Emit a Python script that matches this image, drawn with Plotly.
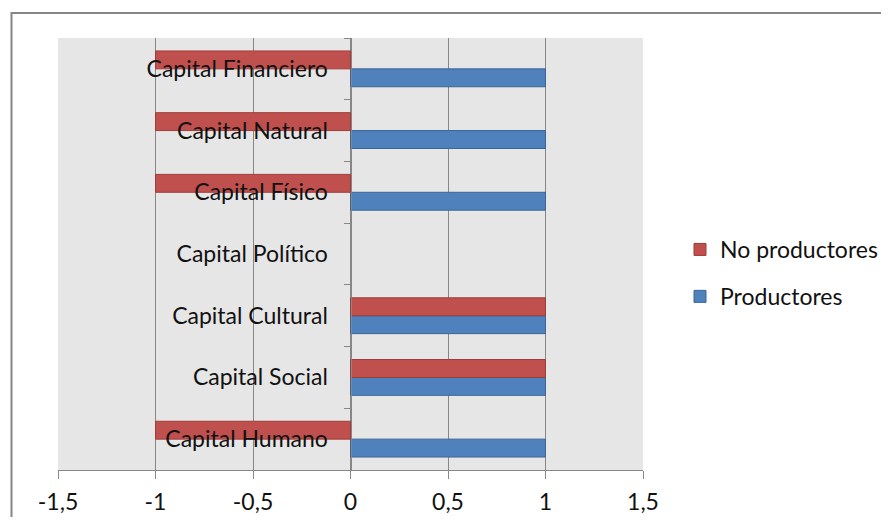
import plotly.graph_objects as go

# ---- data ----
categories = ["Capital Financiero", "Capital Natural", "Capital Físico", "Capital Político",
              "Capital Cultural", "Capital Social", "Capital Humano"]
no_productores = [-1, -1, -1, 0, 1, 1, -1]
productores = [1, 1, 1, 0, 1, 1, 1]
x_tick_vals = [-1.5, -1, -0.5, 0, 0.5, 1, 1.5]
x_tick_labels = ["-1,5", "-1", "-0,5", "0", "0,5", "1", "1,5"]

# page body adds an 8px margin all round; size the figure so the page fits the window
OFF = 8
W, H = 889 - 2 * OFF, 525 - 2 * OFF
PL, PT, PW, PH = 58, 38, 585, 432          # plot area in page pixels
ML, MT = PL - OFF, PT - OFF
MR, MB = W - ML - PW, H - MT - PH

FONT = "Lato, Calibri, 'Open Sans', sans-serif"
FS = 23
RED, RED_EDGE = "#C0504D", "#9E3C39"
BLUE, BLUE_EDGE = "#4F81BD", "#3A6596"
GRID = "#878787"


def edge_widths(vals):
    return [0 if v == 0 else 1 for v in vals]


fig = go.Figure()
fig.add_trace(go.Bar(y=categories, x=productores, orientation="h", name="Productores",
                     marker=dict(color=BLUE, line=dict(color=BLUE_EDGE, width=edge_widths(productores))),
                     legendgroup="p", legendrank=2))
fig.add_trace(go.Bar(y=categories, x=no_productores, orientation="h", name="No productores",
                     marker=dict(color=RED, line=dict(color=RED_EDGE, width=edge_widths(no_productores))),
                     legendgroup="n", legendrank=1))

fig.update_layout(
    width=W, height=H,
    margin=dict(l=ML, r=MR, t=MT, b=MB, pad=0, autoexpand=False),
    paper_bgcolor="white", plot_bgcolor="#E6E6E6",
    barmode="group", bargap=0.42, bargroupgap=0,
    font=dict(family=FONT, size=FS, color="#111111"),
    showlegend=True,
    legend=dict(x=(680 - PL) / PW, xanchor="left", y=(PT + PH - 273) / PH, yanchor="middle",
                traceorder="grouped", tracegroupgap=14,
                font=dict(size=FS), bgcolor="rgba(0,0,0,0)"),
    xaxis=dict(range=[-1.5, 1.5], tickvals=x_tick_vals, ticktext=x_tick_labels,
               showgrid=True, gridcolor=GRID, gridwidth=1, zeroline=False,
               showline=True, linecolor=GRID, linewidth=1,
               ticks="outside", ticklen=8, tickcolor=GRID, tickwidth=1,
               ticklabelstandoff=3,
               tickfont=dict(size=FS), fixedrange=True),
    yaxis=dict(categoryorder="array", categoryarray=categories[::-1],
               anchor="free", position=0.5, side="left",
               showgrid=False, zeroline=False, showline=True, linecolor=GRID,
               ticks="outside", ticklen=7, tickcolor=GRID, tickson="boundaries",
               ticklabelstandoff=18, tickfont=dict(size=FS), fixedrange=True),
)

# outer chart frame (partially cropped in reference)
fig.add_shape(type="rect", xref="paper", yref="paper", layer="below",
              x0=(11.5 - PL) / PW, x1=(889 + 20 - PL) / PW,
              y0=(PT + PH - 545) / PH, y1=(PT + PH - 13) / PH,
              line=dict(color="#868686", width=2), fillcolor="rgba(0,0,0,0)")

fig.write_html("out.html")
